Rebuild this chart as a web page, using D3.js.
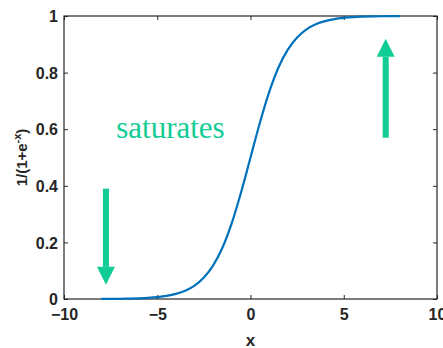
<!DOCTYPE html>
<html>
<head>
<meta charset="utf-8">
<script src="https://cdn.jsdelivr.net/npm/d3@7"></script>
<style>
  html, body { margin: 0; padding: 0; background: #fff; }
  svg { display: block; }
  .tick text { font-family: "Liberation Sans", Arial, sans-serif; font-weight: bold; font-size: 16px; fill: #262626; }
</style>
</head>
<body>
<script>
// Logistic curve samples (x, y)
const xs = [-8, -7.5, -7, -6.5, -6, -5.5, -5, -4.5, -4, -3.5, -3, -2.5, -2, -1.5, -1, -0.5,
            0, 0.5, 1, 1.5, 2, 2.5, 3, 3.5, 4, 4.5, 5, 5.5, 6, 6.5, 7, 7.5, 8];
const ys = [0.0003, 0.0006, 0.0009, 0.0015, 0.0025, 0.0041, 0.0067, 0.011, 0.018, 0.029,
            0.047, 0.076, 0.119, 0.182, 0.269, 0.378, 0.5, 0.622, 0.731, 0.818, 0.881,
            0.924, 0.953, 0.971, 0.982, 0.989, 0.9933, 0.9959, 0.9975, 0.9985, 0.9991,
            0.9994, 0.9997];

const xTicks = [-10, -5, 0, 5, 10];
const yTicks = [0, 0.2, 0.4, 0.6, 0.8, 1];

// Annotation arrows: [x, yTail, yHead]
const arrowDown = [-7.75, 0.39, 0.05];
const arrowUp = [7.25, 0.57, 0.92];
const noteText = "saturates";
const notePos = [-7.2, 0.57];

const W = 443, H = 348;
const m = { left: 64, right: 6, top: 16, bottom: 49 };
const iw = W - m.left - m.right, ih = H - m.top - m.bottom;

const svg = d3.select("body").append("svg").attr("width", W).attr("height", H);
const g = svg.append("g").attr("transform", `translate(${m.left},${m.top})`);

const x = d3.scaleLinear().domain([-10, 10]).range([0, iw]);
const y = d3.scaleLinear().domain([0, 1]).range([ih, 0]);

const ink = "#262626";
const green = "#12cc95";

// Box
g.append("rect").attr("width", iw).attr("height", ih)
  .attr("fill", "none").attr("stroke", ink).attr("stroke-width", 1.2);

// Axes with inward ticks
const xAxis = g.append("g").attr("transform", `translate(0,${ih})`)
  .call(d3.axisBottom(x).tickValues(xTicks).tickFormat(d3.format("d")).tickSizeInner(-4).tickSizeOuter(0).tickPadding(10));
const xTop = g.append("g")
  .call(d3.axisTop(x).tickValues(xTicks).tickFormat("").tickSizeInner(-4).tickSizeOuter(0));
const yAxis = g.append("g")
  .call(d3.axisLeft(y).tickValues(yTicks).tickFormat(d => d3.format("~g")(d)).tickSizeInner(-4).tickSizeOuter(0).tickPadding(6));
const yRight = g.append("g").attr("transform", `translate(${iw},0)`)
  .call(d3.axisRight(y).tickValues(yTicks).tickFormat("").tickSizeInner(-4).tickSizeOuter(0));
[xAxis, xTop, yAxis, yRight].forEach(a => {
  a.select(".domain").remove();
  a.selectAll(".tick line").attr("stroke", ink).attr("stroke-width", 1);
});
xAxis.selectAll(".tick text").attr("dy", "0.71em");
yAxis.selectAll(".tick text").attr("dy", "0.36em");

// Axis titles
svg.append("text")
  .attr("x", m.left + iw / 2).attr("y", 346)
  .attr("text-anchor", "middle")
  .attr("font-family", "Liberation Sans, Arial, sans-serif")
  .attr("font-weight", "bold").attr("font-size", 17).attr("fill", ink)
  .text("x");

const yl = svg.append("text")
  .attr("transform", `translate(27,${m.top + ih / 2}) rotate(-90)`)
  .attr("text-anchor", "middle")
  .attr("font-family", "Liberation Sans, Arial, sans-serif")
  .attr("font-weight", "bold").attr("font-size", 15).attr("fill", ink);
yl.append("tspan").text("1/(1+e");
yl.append("tspan").attr("dy", -6).attr("font-size", 11).text("-x");
yl.append("tspan").attr("dy", 6).text(")");

// Curve
const pts = xs.map((v, i) => [v, ys[i]]);
g.append("path").datum(pts)
  .attr("fill", "none").attr("stroke", "#0072BD").attr("stroke-width", 2.2)
  .attr("d", d3.line().x(d => x(d[0])).y(d => y(d[1])).curve(d3.curveMonotoneX));

// Arrows
function arrow(a) {
  const [ax, y0, y1] = a;
  const cx = x(ax), p0 = y(y0), p1 = y(y1);
  const dir = Math.sign(p1 - p0);
  const headLen = 18, headW = 9, shaftW = 3;
  const base = p1 - dir * headLen;
  g.append("rect")
    .attr("x", cx - shaftW).attr("width", shaftW * 2)
    .attr("y", Math.min(p0, base)).attr("height", Math.abs(base - p0))
    .attr("fill", green);
  g.append("path")
    .attr("d", `M${cx - headW},${base}L${cx + headW},${base}L${cx},${p1}Z`)
    .attr("fill", green);
}
arrow(arrowDown);
arrow(arrowUp);

g.append("text")
  .attr("x", x(notePos[0])).attr("y", y(notePos[1]))
  .attr("font-family", "Liberation Serif, Times New Roman, serif")
  .attr("font-size", 31).attr("fill", green)
  .text(noteText);
</script>
</body>
</html>
